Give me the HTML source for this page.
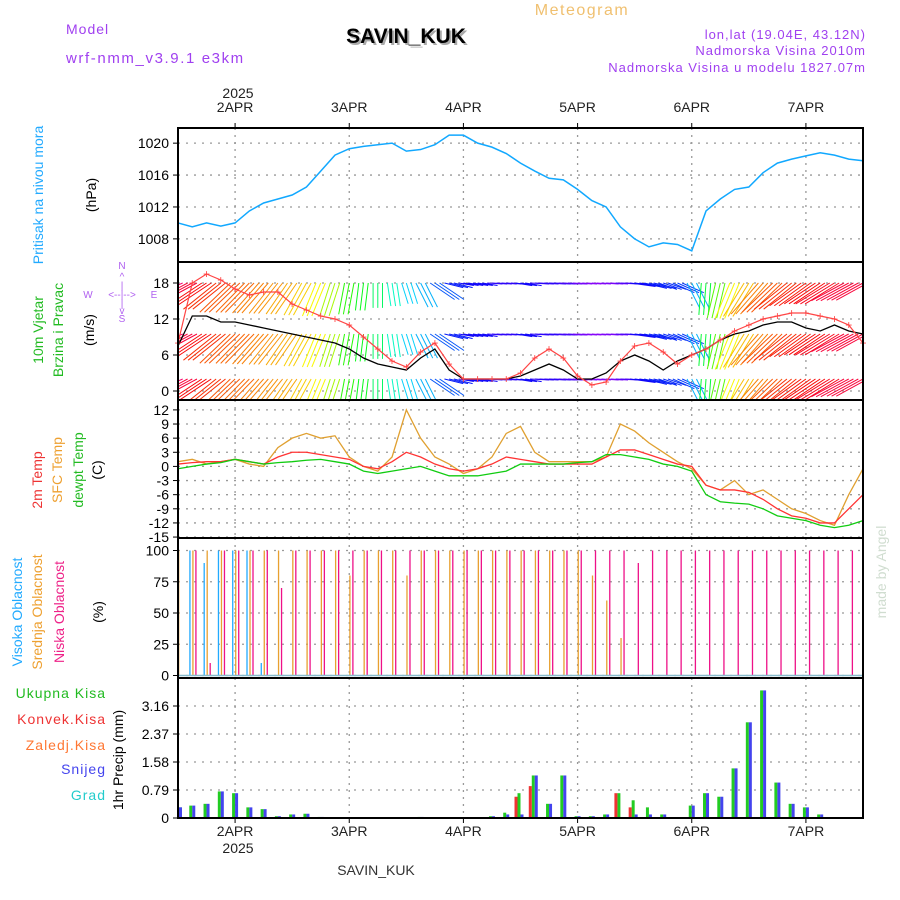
<!DOCTYPE html>
<html><head><meta charset="utf-8"><style>
body{margin:0;background:#fff;width:900px;height:900px;overflow:hidden}
svg{display:block}
text{font-family:"Liberation Sans",sans-serif}
</style></head><body>
<svg id="chart" width="900" height="900" xmlns="http://www.w3.org/2000/svg">
<defs><clipPath id="plotclip"><rect x="178" y="262" width="685" height="138"/></clipPath></defs>
<g id="static" font-size="14">
<text x="582" y="15" fill="#f0c070" font-size="16" text-anchor="middle" letter-spacing="1.5">Meteogram</text>
<text x="66" y="34" fill="#a040f0" letter-spacing="1">Model</text>
<text x="66" y="63" fill="#a040f0" letter-spacing="1.6" font-size="15">wrf-nmm_v3.9.1 e3km</text>
<text x="408" y="45" fill="#aaa" font-size="21" font-weight="bold" text-anchor="middle">SAVIN_KUK</text>
<text x="406" y="43" fill="#000" font-size="21" font-weight="bold" text-anchor="middle">SAVIN_KUK</text>
<text x="866" y="39" fill="#a040f0" text-anchor="end" font-size="13" letter-spacing="1">lon,lat (19.04E, 43.12N)</text>
<text x="866" y="55" fill="#a040f0" text-anchor="end" font-size="13" letter-spacing="1">Nadmorska Visina 2010m</text>
<text x="866" y="72" fill="#a040f0" text-anchor="end" font-size="13" letter-spacing="1">Nadmorska Visina u modelu 1827.07m</text>
<text x="238" y="98" text-anchor="middle" fill="#222">2025</text>
<text x="238" y="853" text-anchor="middle" fill="#222">2025</text>
<text x="376" y="875" text-anchor="middle" fill="#333" font-family="Liberation Serif" font-size="14">SAVIN_KUK</text>
<text transform="translate(43,195) rotate(-90)" text-anchor="middle" fill="#22aaff">Pritisak na nivou mora</text>
<text transform="translate(96,195) rotate(-90)" text-anchor="middle">(hPa)</text>
<text transform="translate(43,330) rotate(-90)" text-anchor="middle" fill="#22bb22">10m Vjetar</text>
<text transform="translate(63,330) rotate(-90)" text-anchor="middle" fill="#22bb22">Brzina i Pravac</text>
<text transform="translate(94,330) rotate(-90)" text-anchor="middle">(m/s)</text>
<g fill="#b060f0" font-size="10" text-anchor="middle">
<text x="122" y="269">N</text><text x="122" y="280">^</text><text x="122" y="289">|</text>
<text x="88" y="298">W</text><text x="122" y="298">&lt;--|--&gt;</text><text x="154" y="298">E</text>
<text x="122" y="307">|</text><text x="122" y="314">v</text><text x="122" y="322">S</text></g>
<text transform="translate(42,480) rotate(-90)" text-anchor="middle" fill="#ee3333">2m Temp</text>
<text transform="translate(62,470) rotate(-90)" text-anchor="middle" fill="#eea030">SFC Temp</text>
<text transform="translate(83,470) rotate(-90)" text-anchor="middle" fill="#22bb22">dewpt Temp</text>
<text transform="translate(102,470) rotate(-90)" text-anchor="middle">(C)</text>
<text transform="translate(22,612) rotate(-90)" text-anchor="middle" fill="#22aaff">Visoka Oblacnost</text>
<text transform="translate(42,612) rotate(-90)" text-anchor="middle" fill="#eea030">Srednja Oblacnost</text>
<text transform="translate(64,612) rotate(-90)" text-anchor="middle" fill="#ee2288">Niska Oblacnost</text>
<text transform="translate(103,612) rotate(-90)" text-anchor="middle">(%)</text>
<text transform="translate(886,572) rotate(-90)" text-anchor="middle" fill="#d0ddd0" font-family="Liberation Serif">made by Angel</text>
<g font-size="14" text-anchor="end" letter-spacing="1">
<text x="106" y="698" fill="#22bb22">Ukupna Kisa</text>
<text x="106" y="724" fill="#ee3333">Konvek.Kisa</text>
<text x="106" y="750" fill="#ff7733">Zaledj.Kisa</text>
<text x="106" y="774" fill="#4444ee">Snijeg</text>
<text x="106" y="800" fill="#22cccc">Grad</text></g>
<text transform="translate(123,760) rotate(-90)" text-anchor="middle">1hr Precip (mm)</text>
</g>
<g id="dyn"></g>
</svg>
<script>
// time axis: hours from 1APR 12Z, samples every 3h
const hours=[0,3,6,9,12,15,18,21,24,27,30,33,36,39,42,45,48,51,54,57,60,63,66,69,72,75,78,81,84,87,90,93,96,99,102,105,108,111,114,117,120,123,126,129,132,135,138,141,144];
const dayLabels=["2APR","3APR","4APR","5APR","6APR","7APR"];
const dayHours=[12,36,60,84,108,132];
const pressure=[1010,1009.5,1010,1009.6,1010,1011.5,1012.5,1013,1013.5,1014.5,1016.5,1018.5,1019.3,1019.6,1019.8,1020,1019,1019.2,1019.8,1021,1021,1020,1019.5,1018.7,1017.5,1016.5,1015.6,1015.4,1014.2,1012.8,1012,1009.5,1008,1007,1007.5,1007.3,1006.5,1011.5,1013,1014.2,1014.5,1016.3,1017.5,1018,1018.4,1018.8,1018.5,1018,1017.8];
const windSpeed=[7.5,12.5,12.5,11.5,11.5,11,10.5,10,9.5,9,8.5,8,7,5.5,4.5,4,3.5,5.5,7,3.5,2,2,2,2,2.5,3.5,4.5,3.5,2,2,3,5,6,5,3.5,5,6,7,8.5,9.5,10,11,11.5,11.5,10.5,10,11,10,9.5];
const windGust=[8,18,19.5,18.5,17,16,16.5,16.5,14.5,13.5,12.5,12,11,9,7,5,4,6.5,8,4.5,2,2,2,2,3,5.5,7,5.5,2.5,1,1.5,5,7.5,8,6.5,4.5,6,7,8.5,10,11,12,12.5,13,13,12.5,12,11,8];
const windDir=[250,245,240,235,230,228,225,222,218,212,205,200,192,188,180,170,160,150,120,100,95,95,90,90,95,90,90,85,75,70,75,85,95,100,105,110,150,185,195,205,215,225,230,235,238,240,242,245,245];
const temp2m=[0.5,0.8,1,1,1.5,1,0.5,2,3,3,2.5,2,1.5,0,-0.5,1,3,2,0.5,-0.5,-1,-0.5,0.5,2,1.5,1,0.5,0.5,0.5,0.5,2,3.5,3.5,2.5,1.5,0.5,0,-4,-5,-5,-5.5,-7,-9,-10.5,-11,-12,-12,-9,-6];
const tempSfc=[1,1.5,0.5,1,1.5,0.5,0,4,6,7,6,6.5,2,0,-1,2,12,6,2,0.5,-1.5,-0.5,2,7,8.5,3,1,1,1,1,2,9,7.5,5,3,1,-0.5,-4,-5,-3,-6,-5,-7,-9,-10,-11.5,-12.5,-6,-0.5];
const tempDew=[-0.5,0,0.5,0.8,1.5,1,0.5,0.8,1,1.3,1.5,1,0.5,-1,-1.5,-1,-0.5,0,-1,-2,-2,-2,-1.5,-1,0.5,0.5,0.5,0.5,0.8,1,2.5,2.5,2,1.5,0.5,0,-1,-6,-7.5,-7.8,-8,-9,-10.5,-11,-11.5,-12.5,-13,-12.5,-11.5];
const cloudHigh=[10,100,90,100,100,100,10,0,0,0,0,0,0,0,0,0,0,0,0,0,0,0,0,0,0,0,0,0,0,0,0,0,0,0,0,0,0,0,0,0,0,0,0,0,0,0,0,0,0];
const cloudMid=[100,100,100,100,100,100,100,100,100,100,100,100,80,100,100,100,80,100,100,100,100,100,100,100,100,100,100,100,100,80,60,30,0,0,0,0,0,0,0,0,0,0,0,0,0,0,0,0,0];
const cloudLow=[0,100,10,100,100,100,100,70,100,100,100,100,100,100,100,100,100,100,100,100,100,100,100,100,100,100,100,100,100,100,100,100,90,100,100,100,100,100,100,100,100,100,100,100,100,100,100,100,100];
const precipTotal=[0.3,0.35,0.4,0.75,0.7,0.3,0.25,0.05,0.1,0.12,0.03,0,0,0,0,0,0,0.03,0,0,0,0,0.05,0.15,0.7,1.2,0.4,1.2,0.05,0.05,0.1,0.7,0.5,0.3,0.1,0,0.35,0.7,0.6,1.4,2.7,3.6,1.0,0.4,0.3,0.1,0,0,0];
const precipConv=[0,0,0,0,0,0,0,0,0,0,0,0,0,0,0,0,0,0,0,0,0,0,0,0,0.6,0.9,0,0,0,0,0,0.7,0.3,0,0,0,0,0,0,0,0,0,0,0,0,0,0,0,0];
const precipSnow=[0.3,0.35,0.4,0.75,0.7,0.3,0.25,0.05,0.1,0.12,0.03,0,0,0,0,0,0,0.03,0,0,0,0,0.05,0.1,0.1,1.2,0.4,1.2,0.05,0.05,0.1,0,0.1,0.1,0.1,0,0.35,0.7,0.6,1.4,2.7,3.6,1.0,0.4,0.3,0.1,0,0,0];
const pTicks=[1008,1012,1016,1020], wTicks=[0,6,12,18], tTicks=[-15,-12,-9,-6,-3,0,3,6,9,12], cTicks=[0,25,50,75,100], rTicks=[0,0.79,1.58,2.37,3.16];
const barbRows=[18,9.5,2];

const X0=178,X1=863,H=144;
const x=h=>X0+(X1-X0)*h/H;
const P={pres:[128,262,1021.9,1005.1],wind:[262,400,21.5,-1.5],temp:[400,538,14.1,-15.2],cloud:[538,678,110,-2],prec:[678,818,3.95,0]};
const yf=k=>v=>{const p=P[k];return p[0]+(p[1]-p[0])*(p[2]-v)/(p[2]-p[3]);};
const yP=yf('pres'),yW=yf('wind'),yT=yf('temp'),yC=yf('cloud'),yR=yf('prec');
const NS='http://www.w3.org/2000/svg',G=document.getElementById('dyn');
function mk(t,a,p){const e=document.createElementNS(NS,t);for(const k in a)e.setAttribute(k,a[k]);(p||G).appendChild(e);return e;}

const panels=[['pres',yP,pTicks],['wind',yW,wTicks],['temp',yT,tTicks],['cloud',yC,cTicks],['prec',yR,rTicks]];
panels.forEach(([k,yfn,ticks])=>{
  const p=P[k];
  const g=mk('g',{});
  
  
  dayHours.forEach(h=>{const l=mk('line',{x1:x(h),x2:x(h),y1:p[0],y2:p[1],stroke:'#999','stroke-dasharray':'2,5','stroke-width':1.3},g);
    });
  ticks.forEach(v=>{const y=yfn(v);
    if(k!=='prec'||v>0){const l=mk('line',{x1:X0,x2:X1,y1:y,y2:y,stroke:'#999','stroke-dasharray':'2,6','stroke-width':1.3},g);
      }
    mk('line',{x1:X0-5,x2:X0,y1:y,y2:y,stroke:'#000'},g);
    const t=mk('text',{x:X0-9,y:y+5,'text-anchor':'end','font-size':14},g);
    t.textContent=String(v);
    
  });
});

function line(arr,yfn,color,name,w){
  const pl=mk('polyline',{points:arr.map((v,i)=>x(hours[i])+','+yfn(v)).join(' '),fill:'none',stroke:color,'stroke-width':w||1.3});
  return pl;}
line(pressure,yP,'#11a8ff','pressure-line',1.5);

const hueStops=[[60,280],[80,265],[100,235],[160,190],[190,120],[205,60],[225,30],[240,0],[255,320]];
function hue(d){for(let i=1;i<hueStops.length;i++){if(d<=hueStops[i][0]){const a=hueStops[i-1],b=hueStops[i];const t=(d-a[0])/(b[0]-a[0]);let h1=a[1],h2=b[1];if(h2>h1+180)h2-=360;return 'hsl('+((h1+(h2-h1)*Math.max(0,t)+360)%360)+',95%,50%)';}}return 'hsl(320,95%,50%)';}
const wg=mk('g',{'clip-path':'url(#plotclip)'});


barbRows.forEach(base=>{
  windSpeed.forEach((s,i)=>{
    const len=Math.min(40,s*2.6+10), a=windDir[i]*Math.PI/180;
    const dx=Math.sin(a)*len, dy=-Math.cos(a)*len*1.1;
    for(let k=0;k<3;k++){const x0=x(hours[i])-4.7+k*4.7;
      const b=mk('line',{x1:x0,y1:yW(base),x2:x0+dx,y2:yW(base)+Math.max(0,dy)+1,stroke:hue(windDir[i]),'stroke-width':1},wg);
      }
  });
});
line(windSpeed,yW,'#000','wind-speed-line',1.3);
line(windGust,yW,'#ff4444','wind-gust-line',1.2);
windGust.forEach((v,i)=>{const t=mk('text',{x:x(hours[i]),y:yW(v)+4,'text-anchor':'middle','font-size':12,fill:'#ff4444'});t.textContent='+';
  });

line(tempSfc,yT,'#e0a030','sfc-temp-line',1.3);
line(temp2m,yT,'#ff3333','temp-2m-line',1.3);
line(tempDew,yT,'#11cc11','dewpoint-line',1.3);

[[cloudHigh,'#22aaff',-3],[cloudMid,'#e8a030',0],[cloudLow,'#ee1188',3]].forEach(([arr,c,off],j)=>{
  arr.forEach((v,i)=>{if(v<=0)return;const xx=x(hours[i])+off;if(xx<X0||xx>X1)return;
    const b=mk('rect',{x:xx,y:yC(v),width:1.3,height:yC(0)-yC(v),fill:c});
    });
});
mk('line',{x1:X0,x2:X1,y1:yC(0),y2:yC(0),stroke:'#88bbcc','stroke-width':1.5});

hours.forEach((h,i)=>{
  const xx=x(h);
  [[precipTotal[i],'#22cc22',-3,'precip-total-bar'],[precipSnow[i],'#4444ee',0,'precip-snow-bar'],[precipConv[i],'#ee3333',-6,'precip-conv-bar']].forEach(([v,c,off,n])=>{
    if(v<=0)return;const bx=Math.max(X0+1,xx+off);
    const b=mk('rect',{x:bx,y:yR(v),width:3,height:yR(0)-yR(v),fill:c});
    });
});
mk('line',{x1:X0,x2:X1,y1:yR(0),y2:yR(0),stroke:'#000','stroke-dasharray':'4,3','stroke-width':1.5});

Object.keys(P).forEach(k=>{const p=P[k];const r=mk('rect',{x:X0,y:p[0],width:X1-X0,height:p[1]-p[0],fill:'none',stroke:'#000','stroke-width':2});
  });
dayHours.forEach((h,i)=>{
  [[112,'top'],[836,'bottom']].forEach(([y,n])=>{const t=mk('text',{x:x(h),y:y,'text-anchor':'middle','font-size':14,fill:'#222'});t.textContent=dayLabels[i];
    });
  mk('line',{x1:x(h),x2:x(h),y1:818,y2:823,stroke:'#000'});mk('line',{x1:x(h),x2:x(h),y1:123,y2:128,stroke:'#000'});
});
</script>
</body></html>
